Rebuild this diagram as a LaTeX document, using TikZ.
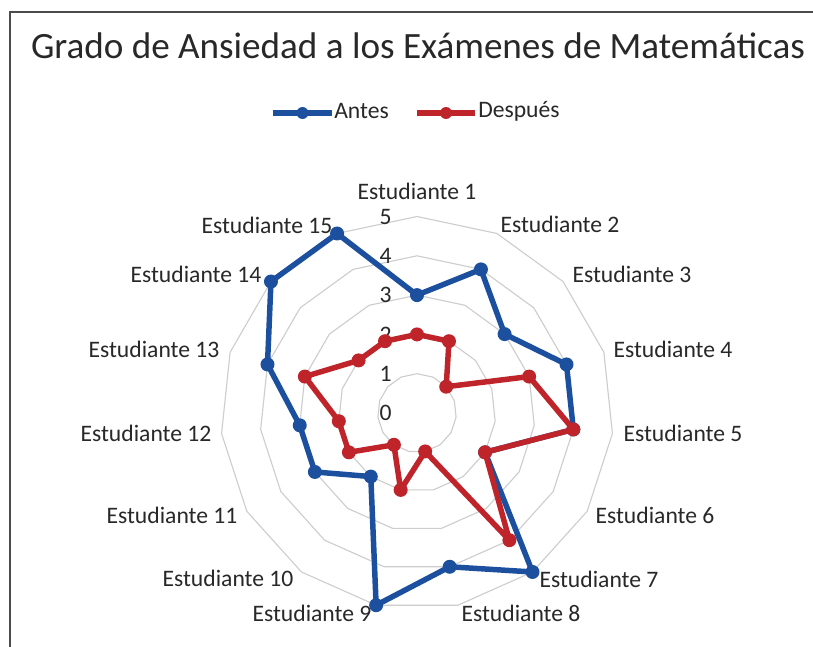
\documentclass[tikz,border=0pt]{standalone}
\usepackage{fontspec}
\setmainfont{Carlito}
\usetikzlibrary{calc}

\begin{document}
\begin{tikzpicture}[x=0.025cm, y=0.025cm]
  % Define colors
  \definecolor{antescolor}{RGB}{28, 80, 158}
  \definecolor{despuescolor}{RGB}{190, 36, 42}
  \definecolor{gridcolor}{RGB}{205, 205, 205}
  \definecolor{textcolor}{RGB}{40, 40, 40}
  \tikzset{
    gridline/.style={draw=gridcolor, line width=0.8pt},
    antesline/.style={draw=antescolor, line width=3.9pt, line join=round},
    despuesline/.style={draw=despuescolor, line width=3.9pt, line join=round},
    axislabel/.style={font=\fontsize{16.8}{18}\selectfont, text=textcolor, inner sep=0pt},
    ticklabel/.style={font=\fontsize{16.8}{18}\selectfont, text=textcolor, inner sep=0pt, anchor=east},
  }
  \def\lvl{39.3}

  \useasboundingbox (-417,-233) rectangle (396,413);

  % Frame
  \draw[draw=black!70, line width=1.1pt] (-407,-240) -- (-407,401) -- (400,401);

  % Title
  \node[font=\fontsize{26.4}{30}\selectfont, text=textcolor, anchor=base, inner sep=0pt] (title) at (1,355)
    {Grado de Ansiedad a los Exámenes de Matemáticas};

  % Legend
  \coordinate (antesA) at (-144,300);
  \coordinate (antesB) at (-85,300);
  \draw[antesline] (antesA) -- (antesB);
  \fill[antescolor] ($(antesA)!0.5!(antesB)$) circle (6);
  \node[axislabel, anchor=west] (antesT) at ($(antesB)+(2,2)$) {Antes};
  \coordinate (despuesA) at (0,300);
  \coordinate (despuesB) at (58,300);
  \draw[despuesline] (despuesA) -- (despuesB);
  \fill[despuescolor] ($(despuesA)!0.5!(despuesB)$) circle (6);
  \node[axislabel, anchor=west] (despuesT) at ($(despuesB)+(3,2)$) {Después};

  % Grid
  \foreach \l in {1,...,5} {
    \draw[gridline] (90:\l*\lvl) \foreach \i in {1,...,14} { -- ({90-\i*24}:\l*\lvl) } -- cycle;
  }

  % Scale labels
  \foreach \l in {0,...,5} {
    \node[ticklabel] (t\l) at (-25,\l*\lvl) {\l};
  }

  % Axis labels
  \foreach \x/\y [count=\i] in {0/222, 143/189, 215/139, 256/64, 266/-20, 238/-102, 182/-166,
      104/-200, -105/-200, -189/-165, -245/-102, -271/-20, -263/64, -221/139, -150/188} {
    \node[axislabel] (s\i) at (\x,\y) {Estudiante \i};
  }

  % Data points
  \foreach \v [count=\i] in {3,4,3,4,4,2,5,4,5,2,3,3,4,5,5} {
    \coordinate (a\i) at ({90-24*(\i-1)}:\v*\lvl);
  }
  \foreach \v [count=\i] in {2,2,1,3,4,2,4,1,2,1,2,2,3,2,2} {
    \coordinate (d\i) at ({90-24*(\i-1)}:\v*\lvl);
  }

  % Antes
  \draw[antesline] (a1) \foreach \i in {2,...,15} { -- (a\i) } -- cycle;
  \foreach \i in {1,...,15} {
    \fill[antescolor] (a\i) circle (7);
  }

  % Despues
  \draw[despuesline] (d1) \foreach \i in {2,...,15} { -- (d\i) } -- cycle;
  \foreach \i in {1,...,15} {
    \fill[despuescolor] (d\i) circle (7);
  }
\end{tikzpicture}
\end{document}
